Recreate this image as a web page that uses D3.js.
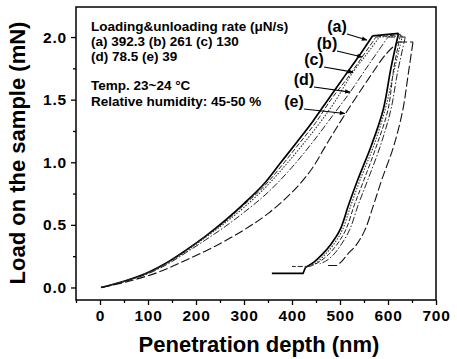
<!DOCTYPE html>
<html>
<head>
<meta charset="utf-8">
<script src="https://cdn.jsdelivr.net/npm/d3@7"></script>
<style>
  body { margin: 0; background: #fff; }
  svg { display: block; font-family: "Liberation Sans", Arial, sans-serif; }
</style>
</head>
<body>
<svg class="chart"></svg>
<script>
// [depth nm, load mN]
const loadA = [[2,0],[50,0.05],[100,0.12],[140,0.2],[180,0.3],[220,0.41],[262,0.54],[300,0.67],[340,0.82],[375,0.99],[410,1.16],[444,1.33],[475,1.5],[510,1.69],[540,1.85],[568,2.01]]
const unloadA = [[622,2.03],[606,1.75],[590,1.42],[565,1.13],[537,0.86],[518,0.66],[500,0.46],[480,0.34],[462,0.26],[445,0.2],[428,0.16]]
const tailA = [[428,0.16],[423,0.112],[358,0.112]]

const loadB = [[2,0],[50,0.05],[100,0.12],[140,0.2],[180,0.3],[220,0.41],[262,0.53],[300,0.66],[340,0.8],[380,0.98],[415,1.15],[450,1.32],[481,1.5],[515,1.67],[546,1.84],[575,2.0]]
const unloadB = [[626,2.02],[612,1.75],[600,1.42],[576,1.13],[550,0.86],[530,0.66],[512,0.46],[493,0.34],[475,0.26],[455,0.2],[437,0.168]]
const tailB = [[437,0.168],[400,0.168]]

const loadC = [[2,0],[50,0.05],[100,0.115],[140,0.195],[180,0.29],[220,0.4],[262,0.52],[300,0.64],[345,0.8],[385,0.97],[420,1.13],[455,1.3],[487,1.47],[527,1.72],[555,1.86],[582,2.0]]
const unloadC = [[630,2.01],[612,1.72],[594,1.42],[570,1.13],[542,0.86],[523,0.66],[505,0.46],[486,0.34],[468,0.26],[452,0.2],[442,0.18]]
const tailC = []

const loadD = [[3,0],[50,0.045],[100,0.11],[140,0.185],[180,0.28],[220,0.38],[262,0.49],[300,0.6],[350,0.76],[400,0.96],[445,1.17],[490,1.4],[521,1.56],[560,1.78],[600,2.0]]
const unloadD = [[636,2.0],[620,1.72],[606,1.42],[584,1.13],[558,0.86],[538,0.66],[520,0.46],[502,0.34],[486,0.26],[470,0.21],[458,0.19]]
const tailD = []

const loadE = [[3,0],[60,0.05],[120,0.12],[180,0.22],[240,0.33],[300,0.46],[350,0.59],[400,0.76],[440,0.94],[473,1.15],[510,1.38],[560,1.67],[595,1.86],[621,1.96]]
const unloadE = [[652,1.96],[642,1.7],[631,1.42],[612,1.13],[587,0.86],[570,0.66],[552,0.46],[534,0.34],[517,0.27],[504,0.21],[494,0.176]]
const tailE = [[494,0.176],[475,0.176]]

const seriesNames = ["(a)", "(b)", "(c)", "(d)", "(e)"]
const loads = [loadA, loadB, loadC, loadD, loadE]
const unloads = [unloadA, unloadB, unloadC, unloadD, unloadE]
const tails = [tailA, tailB, tailC, tailD, tailE]
// where each label arrow points, [depth, load]
const arrowTargets = [[556,1.976],[546,1.84],[527,1.72],[521,1.56],[510,1.39]]

const xTicks = [0, 100, 200, 300, 400, 500, 600, 700]
const yTicks = [0.0, 0.5, 1.0, 1.5, 2.0]

const infoLines = ["Loading&unloading rate (μN/s)", "(a) 392.3 (b) 261 (c) 130", "(d) 78.5 (e) 39", "", "Temp. 23~24 °C", "Relative humidity: 45-50 %"]

const W = 457, H = 359
const svg = d3.select("svg.chart").attr("width", W).attr("height", H)

const x = d3.scaleLinear().domain([-50, 700]).range([76, 436])
const y = d3.scaleLinear().domain([-0.1, 2.24]).range([300, 7])

// frame
svg.append("rect")
    .attr("x", x(-50)).attr("y", y(2.24))
    .attr("width", x(700) - x(-50)).attr("height", y(-0.1) - y(2.24))
    .attr("fill", "none").attr("stroke", "#000").attr("stroke-width", 1.5)

// x axis
const xAxis = svg.append("g").attr("transform", `translate(0,${y(-0.1)})`)
    .call(d3.axisBottom(x).tickValues(xTicks).tickSize(5).tickPadding(5).tickFormat(d3.format("d")))
xAxis.select(".domain").remove()
svg.append("g").attr("transform", `translate(0,${y(-0.1)})`)
    .call(d3.axisBottom(x).tickValues(d3.range(-50, 700, 100)).tickSize(3).tickFormat(""))
    .select(".domain").remove()

// y axis
const yAxis = svg.append("g").attr("transform", `translate(${x(-50)},0)`)
    .call(d3.axisLeft(y).tickValues(yTicks).tickSize(5).tickPadding(4).tickFormat(d3.format(".1f")))
yAxis.select(".domain").remove()
svg.append("g").attr("transform", `translate(${x(-50)},0)`)
    .call(d3.axisLeft(y).tickValues([0.25, 0.75, 1.25, 1.75]).tickSize(3).tickFormat(""))
    .select(".domain").remove()

svg.selectAll(".tick line").attr("stroke", "#000").attr("stroke-width", 1.3)
svg.selectAll(".tick text")
    .attr("fill", "#000")
    .style("font-family", "'Liberation Sans', Arial, sans-serif")
    .style("font-size", "15.5px").style("font-weight", "bold").style("letter-spacing", "0.8px")

// axis titles
svg.append("text")
    .attr("x", 259).attr("y", 352)
    .attr("text-anchor", "middle")
    .style("font-size", "22px").style("font-weight", "bold")
    .text("Penetration depth (nm)")

svg.append("text")
    .attr("transform", "translate(25,153) rotate(-90)")
    .attr("text-anchor", "middle")
    .style("font-size", "22px").style("font-weight", "bold")
    .text("Load on the sample (mN)")

// curves
const styles = [
    { w: 1.7, dash: null, color: "#000" },
    { w: 1.0, dash: "5,2", color: "#222" },
    { w: 1.1, dash: "1.5,1.5", color: "#333" },
    { w: 1.0, dash: "7,2,1.5,2", color: "#222" },
    { w: 1.1, dash: "9,3", color: "#111" }
]

const smooth = d3.line()
    .x(d => x(d[0]))
    .y(d => y(d[1]))
    .curve(d3.curveCatmullRom.alpha(0.5))
const straight = d3.line()
    .x(d => x(d[0]))
    .y(d => y(d[1]))

const curveGroup = svg.append("g")
loads.forEach((load, i) => {
    const hold = [load[load.length - 1], unloads[i][0]]
    const pieces = [smooth(load), straight(hold), smooth(unloads[i])]
    if (tails[i].length) pieces.push(straight(tails[i]))
    curveGroup.append("path")
        .attr("d", pieces.join(""))
        .attr("fill", "none")
        .attr("stroke", styles[i].color)
        .attr("stroke-width", styles[i].w)
        .attr("stroke-dasharray", styles[i].dash)
        .attr("stroke-linejoin", "miter")
})

// info text block
svg.append("g").selectAll("text")
    .data(infoLines)
    .enter()
    .append("text")
    .attr("x", 91)
    .attr("y", (d, i) => i < 3 ? 31 + i * 15 : 90 + (i - 4) * 15.5)
    .style("font-size", "13.5px").style("font-weight", "bold")
    .text(d => d)

// curve labels with arrows
svg.append("defs").append("marker")
    .attr("id", "head")
    .attr("viewBox", "0 0 10 10")
    .attr("refX", 9).attr("refY", 5)
    .attr("markerWidth", 6).attr("markerHeight", 5)
    .attr("orient", "auto")
    .append("path").attr("d", "M0,1L10,5L0,9Z").attr("fill", "#000")

const labelPos = [[337, 32], [327, 49], [314, 65], [304, 85], [294, 107]]

const labels = svg.append("g")
seriesNames.forEach((name, i) => {
    const [lx, ly] = labelPos[i]
    labels.append("text")
        .attr("x", lx).attr("y", ly)
        .attr("text-anchor", "middle")
        .style("font-size", "16px").style("font-weight", "bold")
        .text(name)
    const t = arrowTargets[i]
    labels.append("line")
        .attr("x1", lx + 10).attr("y1", ly + 2)
        .attr("x2", x(t[0])).attr("y2", y(t[1]))
        .attr("stroke", "#000").attr("stroke-width", 1.1)
        .attr("marker-end", "url(#head)")
})
</script>
</body>
</html>
